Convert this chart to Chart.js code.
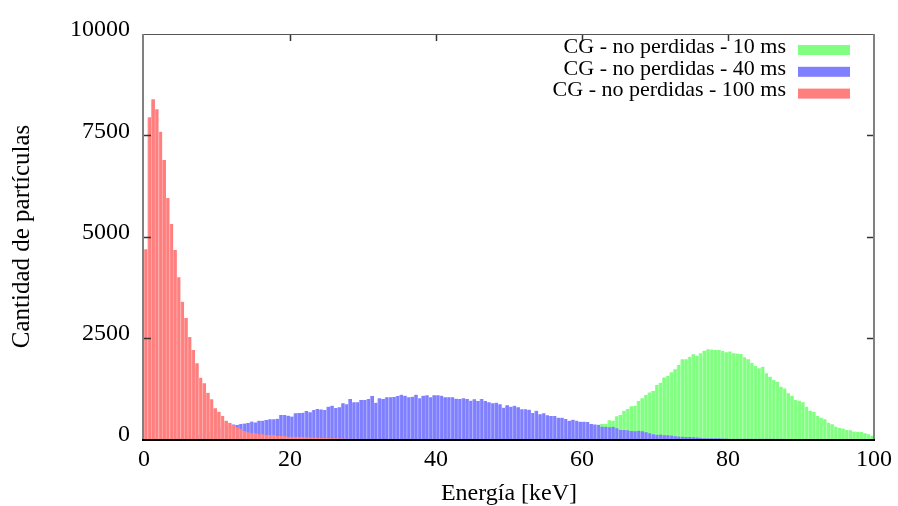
<!DOCTYPE html>
<html>
<head>
<meta charset="utf-8">
<script src="https://cdn.jsdelivr.net/npm/chart.js@4.4.0/dist/chart.umd.min.js"></script>
<style>
html,body{margin:0;padding:0;background:#ffffff;}
#wrap{width:898px;height:506px;position:relative;}
</style>
</head>
<body>
<div id="wrap"><canvas id="c" width="898" height="506"></canvas></div>
<script>
// ---- data (histogram counts per 0.5 keV bin) ----
const binWidth = 0.5;
const seriesLabels = ["CG - no perdidas - 10 ms", "CG - no perdidas - 40 ms", "CG - no perdidas - 100 ms"];
const seriesColors = ["#80ff80", "#7f7fff", "#ff7f7f"];
const seriesEdgeColors = ["#a6ffa6", "#a6a6ff", "#ffa6a6"];

// 10 ms : counts starting at bin 108 (54 keV)
const green10msStart = 108;
const green10ms = [
  10, 15, 20, 30, 40, 55, 70, 90, 110, 135, 160, 190, 220, 250, 280, 310, 330,
  370, 375, 461, 450, 560, 593, 700, 741, 810, 823,
  938, 1004, 1086, 1150, 1185, 1333, 1391, 1520, 1560, 1646,
  1720, 1827, 1967, 1967, 2033, 2091, 2058, 2115, 2181, 2214,
  2210, 2200, 2200, 2181, 2140, 2160, 2115, 2110, 2099, 2016,
  1967, 1885, 1802, 1745, 1786, 1621, 1539, 1457, 1416, 1292,
  1250, 1128, 1070, 960, 947, 905, 798, 700, 675, 568,
  527, 486, 400, 362, 305, 280, 260, 222, 215, 185,
  181, 175, 140, 115, 82
];

// 40 ms : counts starting at bin 5 (2.5 keV)
const blue40msStart = 5;
const blue40ms = [
  3, 5, 8, 12, 20,
  30, 40, 55, 75, 95, 120, 150, 180, 210, 240,
  270, 300, 330, 350, 360, 345, 370, 380, 395, 430,
  410, 453, 453, 469, 486, 486, 500, 593, 593, 576,
  555, 634, 640, 650, 691, 658, 716, 741, 730, 716,
  798, 823, 765, 782, 880, 856, 988, 905, 910, 963,
  963, 988, 1062, 897, 1004, 988, 1029, 1029, 1040, 1062,
  1095, 1070, 1029, 1045, 1095, 1004, 1070, 1080, 1029, 1080,
  1080, 1070, 1029, 1029, 1029, 996, 988, 1004, 988, 947,
  980, 938, 988, 938, 905, 880, 897, 856, 774, 831,
  798, 823, 782, 733, 733, 725, 642, 700, 609, 634,
  584, 568, 568, 527, 527, 494, 453, 477, 453, 428,
  428, 420, 370, 360, 354, 305, 300, 288, 300, 263,
  222, 222, 214, 198, 190, 206, 190, 165, 140, 120,
  105, 110, 95, 90, 85, 70, 60, 58, 49, 49,
  45, 40, 30, 20, 18, 16, 16, 16, 14, 12,
  8, 8, 8, 8, 8, 8, 8, 8, 8, 8,
  8, 8, 8, 5, 4, 3, 2, 2, 1, 1
];

// 100 ms : counts starting at bin 0 (0 keV)
const red100msStart = 0;
const red100ms = [
  4685, 7943, 8387, 8140, 7588, 6889, 5951, 5309, 4667, 3992,
  3390, 2988, 2519, 2198, 1869, 1514, 1375, 1143, 980, 758,
  674, 570, 453, 400, 345, 290, 247, 198, 165, 140,
  140, 115, 115, 99, 99, 99, 74, 74, 74, 58,
  58, 58, 55, 50, 45, 40, 36, 32, 28, 25,
  22, 19, 16, 13, 10, 8, 6, 5, 4, 3,
  2, 1, 1
];

const xTicks = [0, 20, 40, 60, 80, 100];
const yTicks = [0, 2500, 5000, 7500, 10000];
const xTitle = "Energía [keV]";
const yTitle = "Cantidad de partículas";

// ---- build ----
function toPoints(start, counts) {
  return counts.map((c, i) => ({ x: (start + i) * binWidth + binWidth / 2, y: c }));
}
const FONT = "'Liberation Serif', 'DejaVu Serif', serif";

const framePlugin = {
  id: 'frame',
  afterDatasetsDraw(chart) {
    const { ctx, chartArea: { left, right, top, bottom }, scales: { x, y } } = chart;
    ctx.save();
    function line(x1, y1, x2, y2) { ctx.beginPath(); ctx.moveTo(x1, y1); ctx.lineTo(x2, y2); ctx.stroke(); }
    ctx.strokeStyle = '#333333';
    ctx.lineWidth = 1.5;
    yTicks.slice(1, -1).forEach(v => {
      const py = Math.round(y.getPixelForValue(v)) + 0.5;
      line(left, py, left + 7, py);
      line(right - 7, py, right, py);
    });
    xTicks.slice(1, -1).forEach(v => {
      const px = Math.round(x.getPixelForValue(v)) + 0.5;
      line(px, top, px, top + 7);
    });
    ctx.strokeStyle = '#555555'; ctx.lineWidth = 1.2;
    line(left, top + 0.5, right, top + 0.5);
    ctx.strokeStyle = '#808080'; ctx.lineWidth = 2;
    line(left - 1, top, left - 1, bottom);
    line(right, top, right, bottom);
    ctx.strokeStyle = '#000000'; ctx.lineWidth = 2;
    line(left - 2, bottom + 1, right + 1, bottom + 1);
    ctx.restore();
  },
  afterDraw(chart) {
    const { ctx } = chart;
    ctx.save();
    ctx.font = "22px " + FONT;
    ctx.textAlign = 'right';
    ctx.textBaseline = 'middle';
    chart.data.datasets.forEach((ds, i) => {
      const yc = 47 + i * 21.8;
      ctx.fillStyle = '#000000';
      ctx.fillText(ds.label, 786, yc);
      ctx.fillStyle = ds.backgroundColor;
      ctx.fillRect(798, yc - 2, 52, 10);
    });
    ctx.restore();
  }
};

const starts = [green10msStart, blue40msStart, red100msStart];
const counts = [green10ms, blue40ms, red100ms];

new Chart(document.getElementById('c'), {
  type: 'bar',
  data: {
    datasets: seriesLabels.map((lab, i) => ({
      label: lab,
      data: toPoints(starts[i], counts[i]),
      backgroundColor: seriesColors[i],
      borderColor: seriesEdgeColors[i],
      borderWidth: { left: 1, right: 0, top: 0, bottom: 0 },
      borderSkipped: false,
      grouped: false,
      barPercentage: 1,
      categoryPercentage: 1,
      order: 2 - i
    }))
  },
  options: {
    responsive: false,
    animation: false,
    devicePixelRatio: 1,
    layout: { padding: { left: 0, right: 24, top: 34, bottom: 0 } },
    plugins: { legend: { display: false }, tooltip: { enabled: false } },
    scales: {
      x: {
        type: 'linear', min: 0, max: 100, offset: false,
        afterBuildTicks: s => { s.ticks = xTicks.map(v => ({ value: v })); },
        afterFit: s => { s.height = 67; },
        grid: { display: false, drawTicks: false },
        border: { display: false },
        ticks: { color: '#000', font: { family: FONT, size: 24 }, padding: 6, maxRotation: 0,
                 callback: v => String(v) },
        title: { display: true, text: xTitle, color: '#000', font: { family: FONT, size: 24, lineHeight: 1 }, padding: { top: 0, bottom: 0 } }
      },
      y: {
        type: 'linear', min: 0, max: 10000,
        afterBuildTicks: s => { s.ticks = yTicks.map(v => ({ value: v })); },
        afterFit: s => { s.width = 144; },
        grid: { display: false, drawTicks: false },
        border: { display: false },
        ticks: { color: '#000', font: { family: FONT, size: 24 }, padding: 14, labelOffset: -4,
                 callback: v => String(v) },
        title: { display: true, text: yTitle, color: '#000', font: { family: FONT, size: 25, lineHeight: 1 }, padding: { top: 10, bottom: 0 } }
      }
    }
  },
  plugins: [framePlugin]
});
</script>
</body>
</html>
